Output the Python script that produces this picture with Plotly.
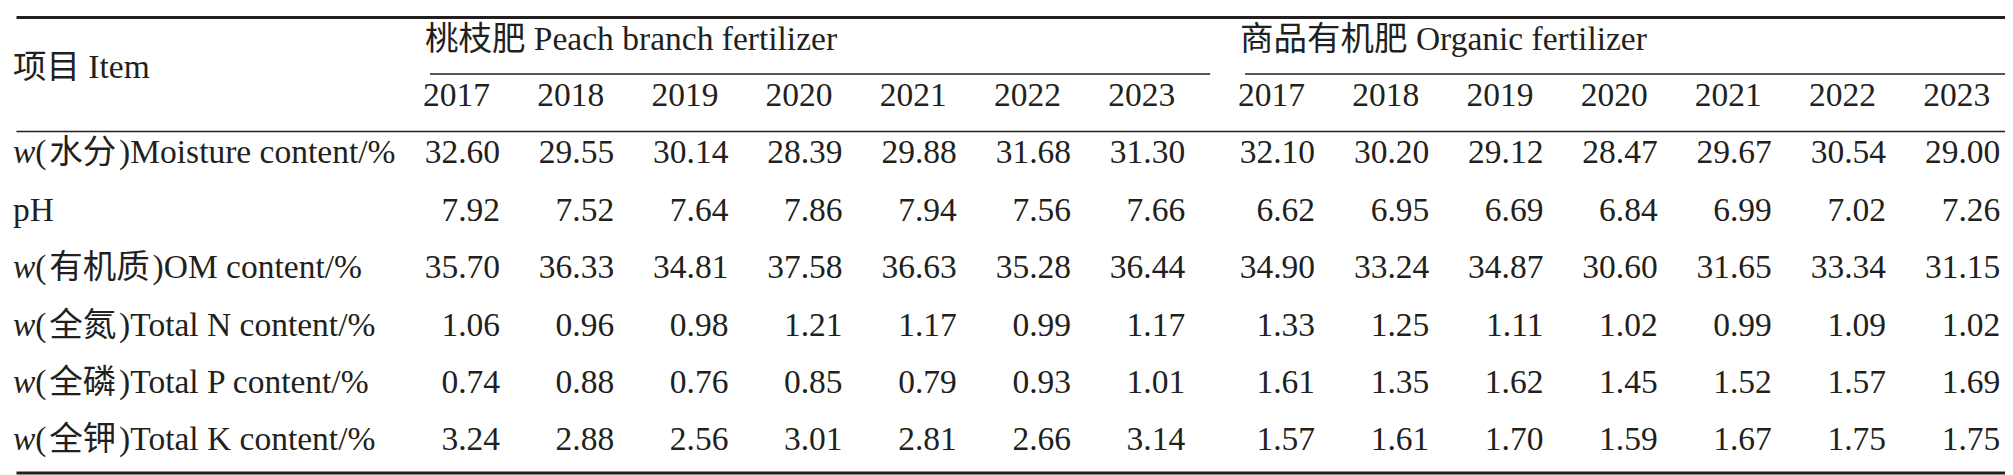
import plotly.graph_objects as go

# ---------------- data ----------------
item_header = "项目 Item"
groups = ["桃枝肥 Peach branch fertilizer", "商品有机肥 Organic fertilizer"]
years = ["2017", "2018", "2019", "2020", "2021", "2022", "2023"]
items = [
    "<i>w</i>(\u200a水分\u200a)Moisture content/%",
    "pH",
    "<i>w</i>(\u200a有机质\u200a)OM content/%",
    "<i>w</i>(\u200a全氮\u200a)Total N content/%",
    "<i>w</i>(\u200a全磷\u200a)Total P content/%",
    "<i>w</i>(\u200a全钾\u200a)Total K content/%",
]
peach_moisture = [32.60, 29.55, 30.14, 28.39, 29.88, 31.68, 31.30]
peach_ph = [7.92, 7.52, 7.64, 7.86, 7.94, 7.56, 7.66]
peach_om = [35.70, 36.33, 34.81, 37.58, 36.63, 35.28, 36.44]
peach_n = [1.06, 0.96, 0.98, 1.21, 1.17, 0.99, 1.17]
peach_p = [0.74, 0.88, 0.76, 0.85, 0.79, 0.93, 1.01]
peach_k = [3.24, 2.88, 2.56, 3.01, 2.81, 2.66, 3.14]
organic_moisture = [32.10, 30.20, 29.12, 28.47, 29.67, 30.54, 29.00]
organic_ph = [6.62, 6.95, 6.69, 6.84, 6.99, 7.02, 7.26]
organic_om = [34.90, 33.24, 34.87, 30.60, 31.65, 33.34, 31.15]
organic_n = [1.33, 1.25, 1.11, 1.02, 0.99, 1.09, 1.02]
organic_p = [1.61, 1.35, 1.62, 1.45, 1.52, 1.57, 1.69]
organic_k = [1.57, 1.61, 1.70, 1.59, 1.67, 1.75, 1.75]

peach = [peach_moisture, peach_ph, peach_om, peach_n, peach_p, peach_k]
organic = [organic_moisture, organic_ph, organic_om, organic_n, organic_p, organic_k]
group_data = [peach, organic]

# ---------------- layout constants (pixels) ----------------
W, H = 2013, 475
PX_FIRST = 497.0     # right edge of first numeric column
PX_COL = 114.2       # column pitch
GAP = 0.137          # extra gap between groups, in columns
PY_FIRST = 153.0     # centre of first data row
PY_ROW = 57.4        # row pitch
U = 1.0 / PX_COL     # one pixel in x units
V = 1.0 / PY_ROW     # one pixel in y units
DX = -5 * U          # text rendering correction
DY = -6 * V

TXT = "#231f20"
FONT = "Liberation Serif, 'Times New Roman', 'Noto Sans CJK SC', serif"
FS = 33.5

def col_x(g, k):
    return k + g * (len(years) + GAP)

label_x = (10 - PX_FIRST) * U
left_edge = (8.5 - PX_FIRST) * U
right_edge = (2007 - PX_FIRST) * U
num_w = 75 * U

fig = go.Figure()

# numeric cells
xs, ys, ts = [], [], []
for g, data in enumerate(group_data):
    for r, row in enumerate(data):
        for k, v in enumerate(row):
            xs.append(col_x(g, k) + DX)
            ys.append(r + DY)
            ts.append(f"{v:.2f}")
fig.add_trace(go.Scatter(x=xs, y=ys, text=ts, mode="text", textposition="middle left",
                         textfont=dict(family=FONT, size=FS, color=TXT), hoverinfo="skip"))

# year headers
yx, yy, yt = [], [], []
for g in range(len(groups)):
    for k, yr in enumerate(years):
        yx.append(col_x(g, k) - 10 * U + DX)
        yy.append(-1 + DY)
        yt.append(yr)
fig.add_trace(go.Scatter(x=yx, y=yy, text=yt, mode="text", textposition="middle left",
                         textfont=dict(family=FONT, size=FS, color=TXT), hoverinfo="skip"))

# group headers
fig.add_trace(go.Scatter(x=[col_x(g, 0) - num_w + DX for g in range(len(groups))],
                         y=[(40 - PY_FIRST) * V + DY] * len(groups), text=groups, mode="text",
                         textposition="middle right",
                         textfont=dict(family=FONT, size=FS, color=TXT), hoverinfo="skip"))

# item labels + header
fig.add_trace(go.Scatter(x=[label_x + DX] * (len(items) + 1),
                         y=[(68 - PY_FIRST) * V + DY] + [r + DY for r in range(len(items))],
                         text=[item_header] + items, mode="text", textposition="middle right",
                         textfont=dict(family=FONT, size=FS, color=TXT), hoverinfo="skip"))

# rules
shapes = []
def hline(x0, x1, y, w):
    shapes.append(dict(type="line", xref="x", yref="y", x0=x0, x1=x1, y0=y, y1=y,
                       line=dict(color=TXT, width=w)))

hline(left_edge, right_edge, (9.5 - PY_FIRST) * V, 2.8)
group_ext = [20 * U, 10 * U]
for g in range(len(groups)):
    hline(col_x(g, 0) - num_w, col_x(g, len(years) - 1) + group_ext[g], (66 - PY_FIRST) * V, 1.3)
hline(left_edge, right_edge, (123.5 - PY_FIRST) * V, 1.3)
hline(left_edge, right_edge, (465 - PY_FIRST) * V, 2.8)

fig.update_layout(
    width=W, height=H,
    margin=dict(l=0, r=0, t=0, b=0),
    paper_bgcolor="white", plot_bgcolor="white",
    showlegend=False, shapes=shapes,
    xaxis=dict(range=[(0 - PX_FIRST) * U, (W - PX_FIRST) * U], visible=False, fixedrange=True),
    yaxis=dict(range=[(H - PY_FIRST) * V, (0 - PY_FIRST) * V], visible=False, fixedrange=True),
)

fig.write_html("out.html")
